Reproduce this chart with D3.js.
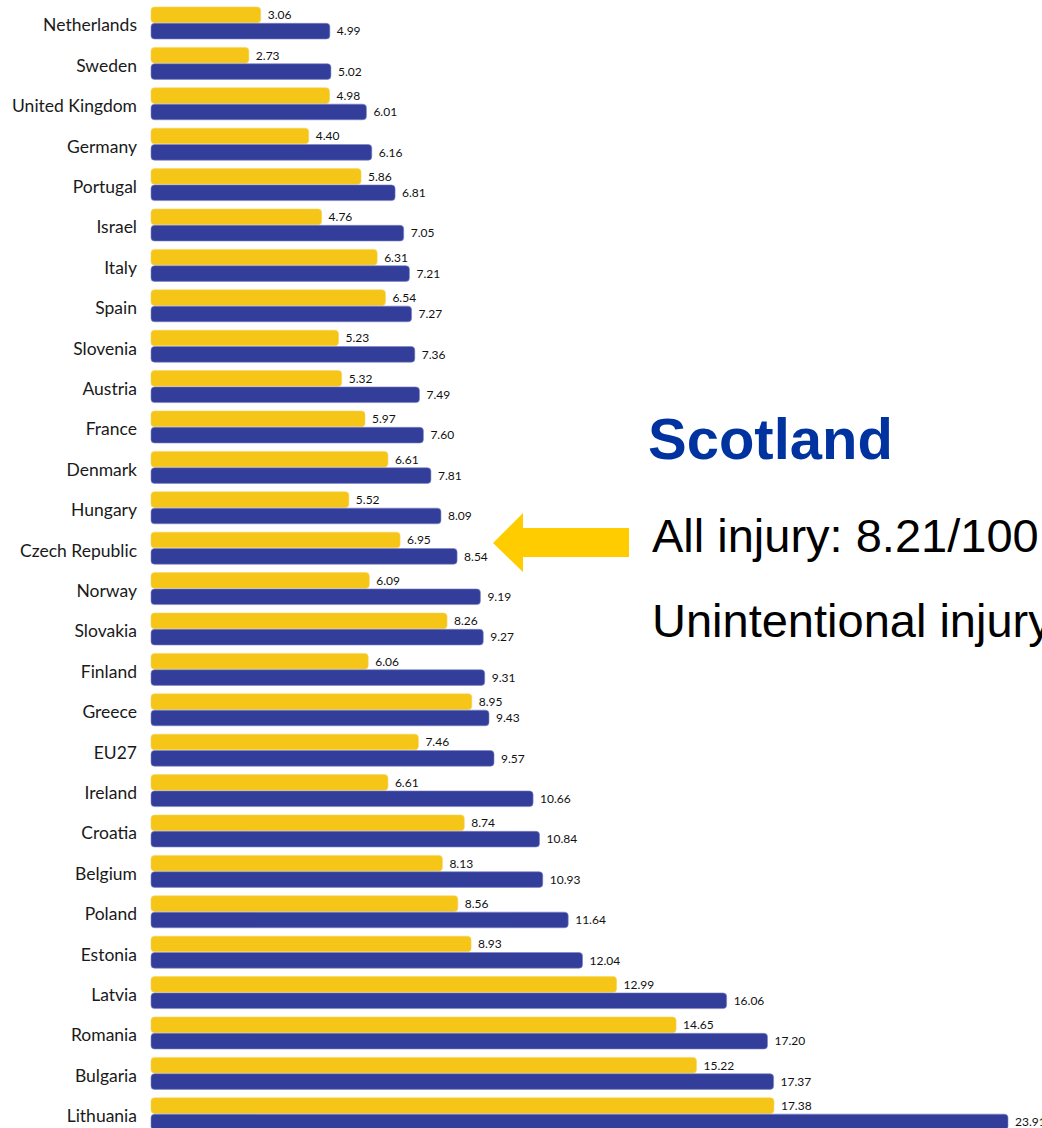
<!DOCTYPE html>
<html>
<head>
<meta charset="utf-8">
<script src="https://cdn.jsdelivr.net/npm/d3@7"></script>
<style>
  html, body { margin: 0; padding: 0; background: #ffffff; }
  svg { display: block; }
</style>
</head>
<body>
<div id="chart"></div>
<script>
// Injury death rates per 100 000 children, by country
const countries = [
  "Netherlands", "Sweden", "United Kingdom", "Germany", "Portugal", "Israel",
  "Italy", "Spain", "Slovenia", "Austria", "France", "Denmark", "Hungary",
  "Czech Republic", "Norway", "Slovakia", "Finland", "Greece", "EU27",
  "Ireland", "Croatia", "Belgium", "Poland", "Estonia", "Latvia", "Romania",
  "Bulgaria", "Lithuania"
];
const unintentional = [
  3.06, 2.73, 4.98, 4.40, 5.86, 4.76, 6.31, 6.54, 5.23, 5.32, 5.97, 6.61, 5.52,
  6.95, 6.09, 8.26, 6.06, 8.95, 7.46, 6.61, 8.74, 8.13, 8.56, 8.93, 12.99, 14.65,
  15.22, 17.38
];
const allInjury = [
  4.99, 5.02, 6.01, 6.16, 6.81, 7.05, 7.21, 7.27, 7.36, 7.49, 7.60, 7.81, 8.09,
  8.54, 9.19, 9.27, 9.31, 9.43, 9.57, 10.66, 10.84, 10.93, 11.64, 12.04, 16.06,
  17.20, 17.37, 23.91
];
const seriesKeys = ["unintentional", "all"];
const seriesColors = ["#f5c518", "#323e9a"];
const seriesEdges = ["#f8d45a", "#7d84c4"];

const scotlandTitle = "Scotland";
const scotlandLines = ["All injury: 8.21/100 000", "Unintentional injury"];

const W = 1042, H = 1128;
const svg = d3.select("#chart").append("svg")
  .attr("width", W).attr("height", H)
  .attr("viewBox", `0 0 ${W} ${H}`);

const rows = countries.map((c, i) => ({
  country: c,
  values: [unintentional[i], allInjury[i]]
}));

const x = d3.scaleLinear().domain([0, 23.91]).range([151, 1008]);
const step = 40.4;
const y = d3.scaleBand().domain(countries)
  .range([7, 7 + step * (countries.length - 1) + 32])
  .paddingInner(8.4 / step).paddingOuter(0);
const ySub = d3.scaleBand().domain(seriesKeys).range([0, y.bandwidth()]).paddingInner(0.04);

// Country labels
svg.append("g").selectAll("text").data(rows).join("text")
  .attr("x", 137)
  .attr("y", d => y(d.country) + y.bandwidth() / 2 + 2)
  .attr("dy", "0.36em")
  .attr("text-anchor", "end")
  .attr("font-family", "Lato, 'Open Sans', sans-serif")
  .attr("font-size", 17.5)
  .attr("fill", "#1a1a1a")
  .text(d => d.country);

// Bars and value labels
const groups = svg.append("g").selectAll("g").data(rows).join("g")
  .attr("transform", d => `translate(0,${y(d.country)})`);

groups.selectAll("rect").data(d => d.values.map((v, k) => ({ v, k })))
  .join("rect")
  .attr("x", x(0))
  .attr("y", d => ySub(seriesKeys[d.k]))
  .attr("width", d => x(d.v) - x(0))
  .attr("height", ySub.bandwidth())
  .attr("rx", 3.5).attr("ry", 3.5)
  .attr("fill", d => seriesColors[d.k])
  .attr("stroke", d => seriesEdges[d.k])
  .attr("stroke-width", 0.6);

groups.selectAll("text").data(d => d.values.map((v, k) => ({ v, k })))
  .join("text")
  .attr("x", d => x(d.v) + 7)
  .attr("y", d => ySub(seriesKeys[d.k]) + ySub.bandwidth() / 2)
  .attr("dy", "0.36em")
  .attr("font-family", "'Liberation Sans Narrow', 'Arial Narrow', Lato, sans-serif")
  .attr("font-size", 12)
  .attr("fill", "#111")
  .text(d => d3.format(".2f")(d.v));

// Callout arrow pointing at the Scotland rate
const arrow = d3.path();
arrow.moveTo(493, 543);
arrow.lineTo(523, 513);
arrow.lineTo(523, 528);
arrow.lineTo(629, 528);
arrow.lineTo(629, 557);
arrow.lineTo(523, 557);
arrow.lineTo(523, 572);
arrow.closePath();
svg.append("path").attr("d", arrow.toString()).attr("fill", "#ffcc00");

svg.append("text")
  .attr("x", 648).attr("y", 459)
  .attr("font-family", "'Liberation Sans', Arial, sans-serif")
  .attr("font-weight", "bold")
  .attr("font-size", 58)
  .attr("fill", "#0033a0")
  .text(scotlandTitle);

svg.append("g").selectAll("text").data(scotlandLines).join("text")
  .attr("x", 652)
  .attr("y", (d, i) => 552 + i * 85)
  .attr("font-family", "'Liberation Sans', Arial, sans-serif")
  .attr("font-size", 47)
  .attr("fill", "#000")
  .text(d => d);
</script>
</body>
</html>
